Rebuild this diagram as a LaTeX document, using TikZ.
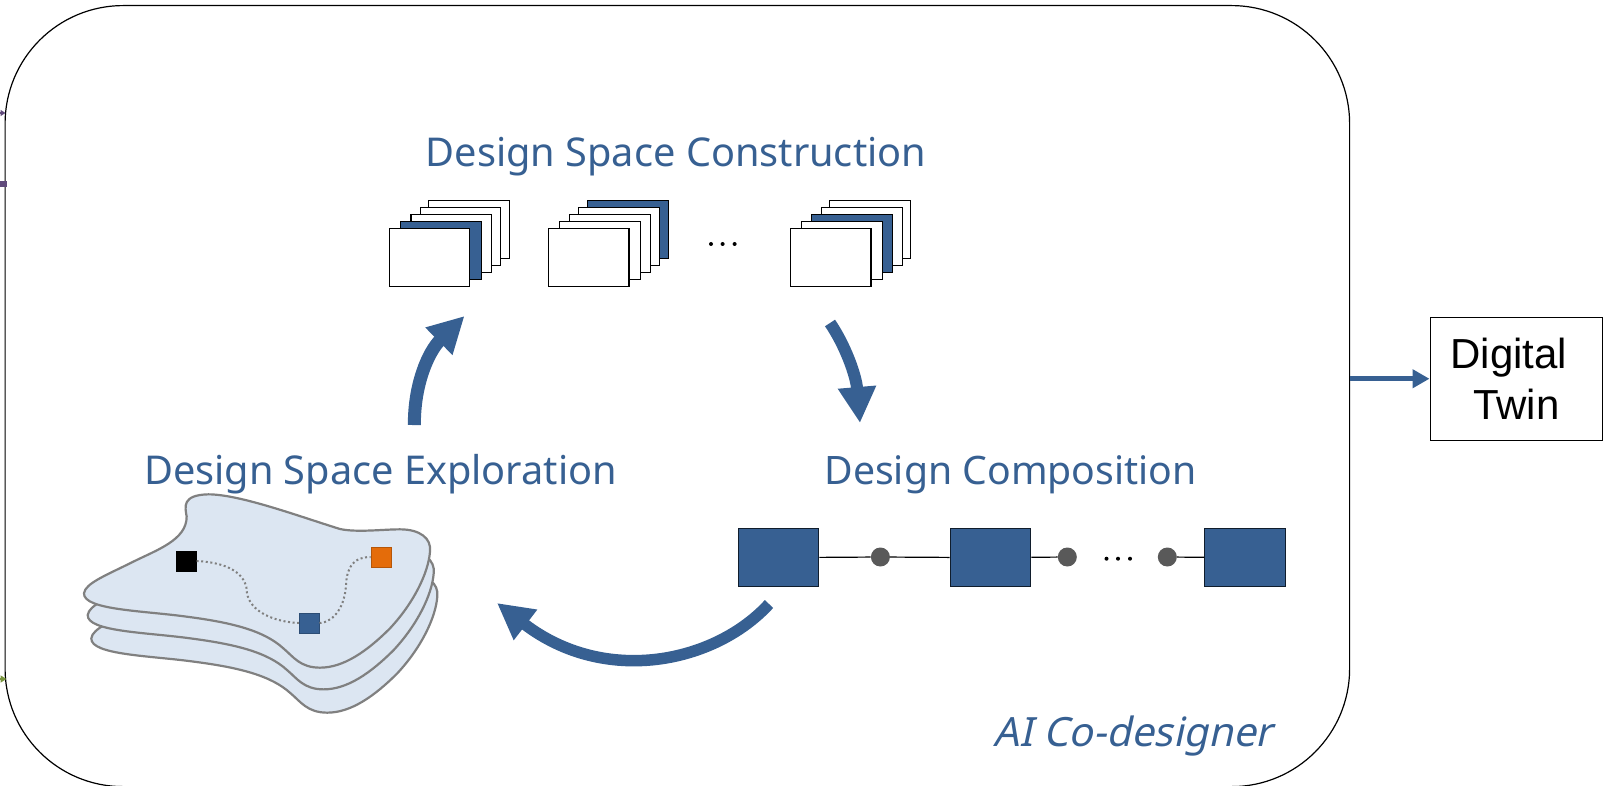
\documentclass[tikz,border=0pt]{standalone}
\usepackage{fontspec}
\setmainfont{Liberation Sans}
\newfontfamily\tah{Noto Sans}
\newfontfamily\tahi[FakeSlant=0.22]{Noto Sans}
\usetikzlibrary{arrows.meta}
\definecolor{dblue}{HTML}{376092}
\definecolor{lblue}{HTML}{DCE6F2}
\definecolor{dgray}{HTML}{595959}
\definecolor{orng}{HTML}{E46C0A}
\definecolor{purp}{HTML}{604A7B}
\definecolor{grn}{HTML}{77933C}
\tikzset{
  title/.style={anchor=base,inner sep=0pt,text=dblue,font=\tah\fontsize{39.7}{44}\selectfont},
  sheet/.style={draw=black,line width=1.3pt,fill=#1,minimum width=80.5pt,minimum height=58pt,inner sep=0pt,anchor=north west},
  sheet/.default=white,
  modbox/.style={draw=black!70!dblue,line width=1.3pt,fill=dblue,minimum width=80.5pt,minimum height=58pt,inner sep=0pt,anchor=north west},
  joint/.style={circle,fill=dgray,minimum width=19pt,inner sep=0pt},
  dotpt/.style={circle,fill=black,minimum width=4pt,inner sep=0pt},
  mark sq/.style={minimum width=20pt,minimum height=20pt,inner sep=0pt,fill=#1,draw=#1!80!black,line width=.6pt},
  bigarrow/.style={draw=dblue,line width=#1,-{Triangle[length=36pt,width=36pt]}},
  trail/.style={draw=gray,line width=2pt,dash pattern=on 2pt off 2.6pt},
  layer/.style={draw=gray,line width=2.2pt,fill=lblue},
  wire/.style={draw=black,line width=1.2pt},
}
\newcommand{\blobpath}{(252,400) .. controls (255,370) and (320,345) .. (400,305) .. controls (470,270) and (560,240) .. (560,170) .. controls (555,140) and (545,105) .. (625,103) .. controls (720,103) and (900,170) .. (1020,207) .. controls (1070,218) and (1150,208) .. (1200,208) .. controls (1260,208) and (1295,235) .. (1290,275) .. controls (1285,340) and (1240,430) .. (1170,505) .. controls (1100,575) and (1030,623) .. (960,623) .. controls (900,623) and (880,590) .. (850,565) .. controls (790,510) and (690,487) .. (560,470) .. controls (430,452) and (250,450) .. (252,400) -- cycle}
\begin{document}
\begin{tikzpicture}[x=1pt,y=-1pt]
\useasboundingbox (0,0) rectangle (1613,786);
\node[draw=black,line width=1.2pt,rounded corners=118pt,minimum width=1344.5pt,minimum height=781pt,inner sep=0pt,anchor=north west] (frame) at (4.5,5) {};
% left stubs
\coordinate (s1) at (0,113);
\coordinate (s2) at (0,184);
\coordinate (s3) at (0,679);
\coordinate (e1) at (5.5,113);
\coordinate (e2) at (7,184);
\coordinate (e3) at (6.5,679);
\draw[purp,line width=1.5pt,-{Triangle[length=5pt,width=6pt]}] (s1) -- (e1);
\draw[purp,line width=6pt] (s2) -- (e2);
\draw[grn,line width=1.5pt,-{Triangle[length=6pt,width=7pt]}] (s3) -- (e3);
% titles
\node[title] (tcons) at (676,167) {Design Space Construction};
\node[title] (texpl) at (380.5,484) {Design Space Exploration};
\node[title,font=\tah\fontsize{39.2}{44}\selectfont] (tcomp) at (1010.5,484) {Design Composition};
\node[anchor=base,inner sep=0pt,text=dblue,font=\tahi\fontsize{40.3}{44}\selectfont] (tai) at (1133,746) {AI Co-designer};
% stack 1
\node[sheet] (a5) at (428,200) {};
\node[sheet] (a4) at (419.5,207) {};
\node[sheet] (a3) at (410.3,214) {};
\node[sheet=dblue] (a2) at (400,221) {};
\node[sheet] (a1) at (388.6,228) {};
% stack 2
\node[sheet=dblue] (b5) at (587,200) {};
\node[sheet] (b4) at (578,207) {};
\node[sheet] (b3) at (569,214) {};
\node[sheet] (b2) at (559,221) {};
\node[sheet] (b1) at (547.7,228) {};
% stack 3
\node[sheet] (c5) at (829,200) {};
\node[sheet] (c4) at (821,207) {};
\node[sheet=dblue] (c3) at (811,214) {};
\node[sheet] (c2) at (801,221) {};
\node[sheet] (c1) at (789.7,228) {};
\node[dotpt] (d1) at (711,244) {};
\node[dotpt] (d2) at (722.6,244) {};
\node[dotpt] (d3) at (734.6,244) {};
% chain
\node[modbox] (m1) at (737.5,528) {};
\node[modbox] (m2) at (949.5,528) {};
\node[modbox] (m3) at (1204,528) {};
\node[joint] (j1) at (880.4,557) {};
\node[joint] (j2) at (1067.3,557) {};
\node[joint] (j3) at (1167.3,557) {};
\draw[wire] (m1) -- (j1) -- (m2) -- (j2);
\draw[wire] (j3) -- (m3);
\node[dotpt] (e4) at (1106.5,558.7) {};
\node[dotpt] (e5) at (1118,558.7) {};
\node[dotpt] (e6) at (1130,558.7) {};
% layered surface
\begin{scope}[shift={(7.3,505)},scale=0.33333]
\draw[layer] \blobpath;
\end{scope}
\begin{scope}[shift={(3.7,481.7)},scale=0.33333]
\draw[layer] \blobpath;
\end{scope}
\begin{scope}[shift={(0,460)},scale=0.33333]
\draw[layer] \blobpath;
\end{scope}
\node[mark sq=black] (qk) at (186.3,561) {};
\node[mark sq=dblue] (qb) at (309.2,623) {};
\node[mark sq=orng] (qo) at (381,557) {};
\draw[trail] (qk.east) .. controls (235,563) and (247,578) .. (247,593) .. controls (250,612) and (275,622) .. (qb.west);
\draw[trail] (qb.east) .. controls (335,622) and (345,605) .. (346,585) .. controls (347,565) and (355,557) .. (qo.west);
% cycle arrows
\coordinate (u0) at (414.4,425);
\coordinate (u1) at (464.5,316);
\coordinate (r0) at (830,323);
\coordinate (r1) at (860,423);
\coordinate (l0) at (769,604);
\coordinate (l1) at (497,603);
\draw[bigarrow=13pt] (u0) .. controls (414,385) and (428,352) .. (u1);
\draw[bigarrow=12pt] (r0) .. controls (845,345) and (856,375) .. (r1);
\draw[bigarrow=11.5pt] (l0) .. controls (715,663) and (605,686) .. (l1);
% twin
\node[draw=black,line width=1.5pt,minimum width=172pt,minimum height=123pt,inner sep=0pt,anchor=north west,align=center,font=\fontsize{42}{50.7}\selectfont] (twin) at (1429.5,316.5) {Digital\hspace*{15pt}\\Twin};
\draw[dblue,line width=5pt,-{Triangle[length=17pt,width=18pt]}] (frame.east |- twin.west) -- (twin.west);
\end{tikzpicture}
\end{document}
